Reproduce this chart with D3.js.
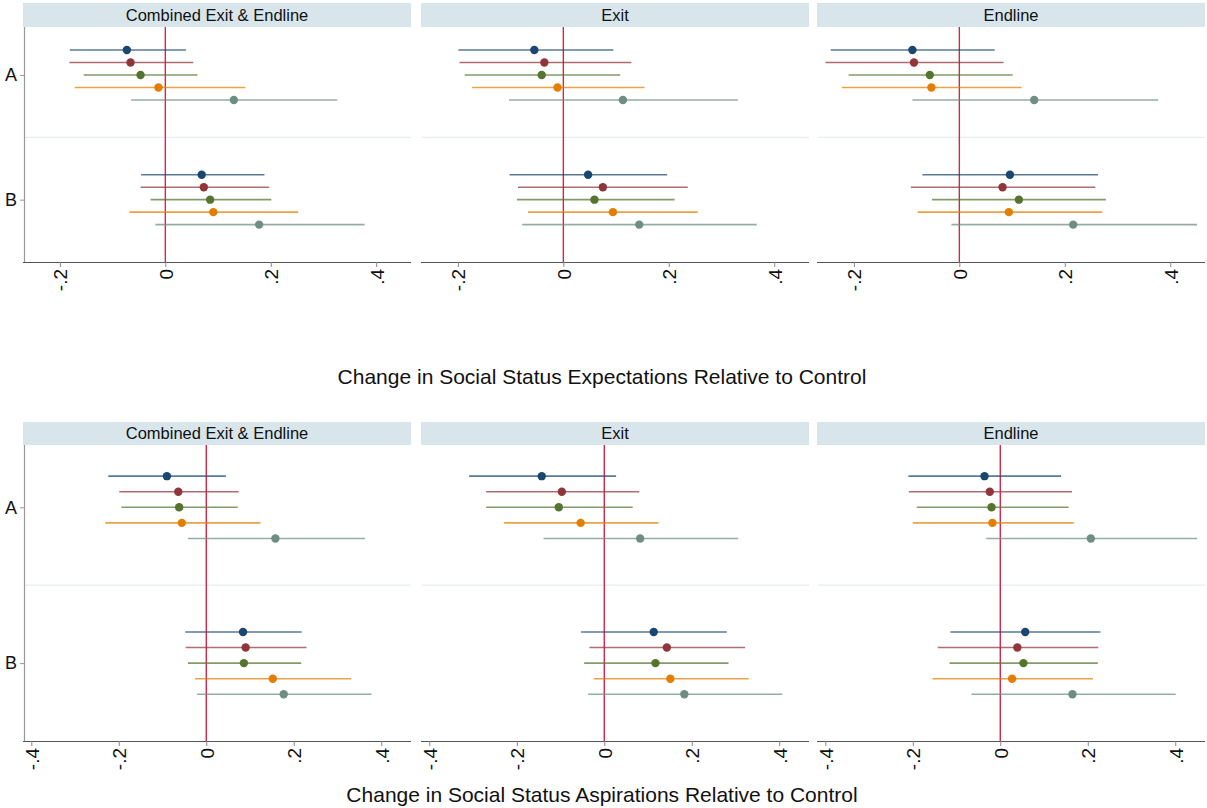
<!DOCTYPE html>
<html>
<head>
<meta charset="utf-8">
<script src="https://cdn.jsdelivr.net/npm/d3@7"></script>
<style>
  html, body { margin: 0; padding: 0; background: #ffffff; }
  svg { display: block; font-family: "Liberation Sans", Arial, Helvetica, sans-serif; }
</style>
</head>
<body>
<svg id="chart" width="1207" height="808"></svg>
<script>
// Facet titles, outcome categories and the five estimates shown per category
const panelTitles = ["Combined Exit & Endline", "Exit", "Endline"];
const categories = ["A", "B"];
const seriesNames = ["s1", "s2", "s3", "s4", "s5"];
const seriesColors = ["#1a476f", "#90353b", "#55752f", "#e37e00", "#6e8e84"];

const topAxisTitle = "Change in Social Status Expectations Relative to Control";
const bottomAxisTitle = "Change in Social Status Aspirations Relative to Control";

const topTicks = [-0.2, 0, 0.2, 0.4];
const topTickLabels = ["-.2", "0", ".2", ".4"];
const bottomTicks = [-0.4, -0.2, 0, 0.2, 0.4];
const bottomTickLabels = ["-.4", "-.2", "0", ".2", ".4"];

// Expectations: [panel][category][series]
const expPoint = [
  [[-0.073, -0.066, -0.047, -0.013, 0.130], [0.069, 0.073, 0.085, 0.091, 0.178]],
  [[-0.055, -0.036, -0.041, -0.011, 0.113], [0.047, 0.075, 0.059, 0.094, 0.144]],
  [[-0.089, -0.086, -0.056, -0.053, 0.142], [0.096, 0.082, 0.113, 0.094, 0.216]]
];
const expLow = [
  [[-0.181, -0.182, -0.155, -0.172, -0.065], [-0.046, -0.047, -0.028, -0.068, -0.019]],
  [[-0.199, -0.197, -0.187, -0.173, -0.103], [-0.102, -0.086, -0.088, -0.067, -0.078]],
  [[-0.244, -0.254, -0.210, -0.223, -0.089], [-0.070, -0.092, -0.052, -0.079, -0.015]]
];
const expHigh = [
  [[0.039, 0.053, 0.061, 0.152, 0.326], [0.188, 0.197, 0.201, 0.252, 0.378]],
  [[0.095, 0.129, 0.108, 0.154, 0.331], [0.197, 0.236, 0.211, 0.255, 0.367]],
  [[0.067, 0.084, 0.101, 0.118, 0.377], [0.263, 0.258, 0.278, 0.271, 0.451]]
];

// Aspirations: [panel][category][series]
const aspPoint = [
  [[-0.090, -0.064, -0.062, -0.056, 0.158], [0.084, 0.090, 0.086, 0.152, 0.177]],
  [[-0.143, -0.097, -0.104, -0.054, 0.082], [0.113, 0.143, 0.117, 0.151, 0.183]],
  [[-0.036, -0.024, -0.020, -0.018, 0.207], [0.057, 0.039, 0.053, 0.027, 0.165]]
];
const aspLow = [
  [[-0.224, -0.199, -0.194, -0.231, -0.042], [-0.048, -0.047, -0.042, -0.026, -0.021]],
  [[-0.309, -0.270, -0.270, -0.229, -0.139], [-0.053, -0.034, -0.046, -0.024, -0.037]],
  [[-0.210, -0.209, -0.191, -0.200, -0.032], [-0.114, -0.143, -0.116, -0.155, -0.066]]
];
const aspHigh = [
  [[0.045, 0.074, 0.072, 0.124, 0.363], [0.218, 0.229, 0.217, 0.331, 0.378]],
  [[0.027, 0.080, 0.065, 0.124, 0.306], [0.280, 0.322, 0.284, 0.330, 0.407]],
  [[0.139, 0.164, 0.156, 0.168, 0.450], [0.229, 0.224, 0.223, 0.212, 0.401]]
];

const svg = d3.select("#chart");

const panelLeft = [23, 421, 817];
const panelWidth = 388;

const blocks = [
  {
    point: expPoint, low: expLow, high: expHigh,
    ticks: topTicks, tickLabels: topTickLabels, title: topAxisTitle,
    xDomain: [-0.27, 0.466], yDomain: [0.615, 2.5],
    stripTop: 3, plotTop: 27, plotBottom: 262, titleY: 384
  },
  {
    point: aspPoint, low: aspLow, high: aspHigh,
    ticks: bottomTicks, tickLabels: bottomTickLabels, title: bottomAxisTitle,
    xDomain: [-0.419, 0.468], yDomain: [0.6, 2.5],
    stripTop: 422, plotTop: 445, plotBottom: 741, titleY: 802
  }
];

blocks.forEach(block => {
  const y = d3.scaleLinear().domain(block.yDomain).range([block.plotTop, block.plotBottom]);

  panelTitles.forEach((title, p) => {
    const x0 = panelLeft[p];
    const x = d3.scaleLinear().domain(block.xDomain).range([x0, x0 + panelWidth]);
    const g = svg.append("g");

    // facet strip
    g.append("rect")
      .attr("x", x0).attr("y", block.stripTop)
      .attr("width", panelWidth).attr("height", block.plotTop - block.stripTop)
      .attr("fill", "#d8e5eb");
    g.append("text")
      .attr("x", x0 + panelWidth / 2).attr("y", block.plotTop - 6.5)
      .attr("text-anchor", "middle")
      .attr("font-size", 16.5).attr("fill", "#111")
      .text(title);

    // separator between categories
    g.append("line")
      .attr("x1", x0 + 1).attr("x2", x0 + panelWidth)
      .attr("y1", y(1.5)).attr("y2", y(1.5))
      .attr("stroke", "#e6eef0").attr("stroke-width", 1.2);

    // x axis
    const xAxis = d3.axisBottom(x)
      .tickValues(block.ticks)
      .tickSize(5)
      .tickFormat((d, i) => block.tickLabels[i]);
    const ax = g.append("g")
      .attr("transform", `translate(0,${block.plotBottom})`)
      .call(xAxis);
    ax.select(".domain").attr("stroke", "#555").attr("stroke-width", 1.2)
      .attr("d", `M${x0},0.5H${x0 + panelWidth}`);
    ax.selectAll(".tick line").attr("stroke", "#888");
    ax.selectAll(".tick text")
      .attr("font-size", 19).attr("fill", "#111")
      .attr("font-family", "'Liberation Sans', Arial, sans-serif")
      .attr("text-anchor", "end")
      .attr("x", 0).attr("y", 0).attr("dy", "0.36em")
      .attr("transform", "translate(0,7) rotate(-90)");

    // y axis only on first facet
    if (p === 0) {
      const yAxis = d3.axisLeft(y)
        .tickValues([1, 2])
        .tickSize(4)
        .tickFormat((d, i) => categories[i]);
      const ay = g.append("g")
        .attr("transform", `translate(${x0 + 1},0)`)
        .call(yAxis);
      ay.select(".domain").attr("stroke", "#999").attr("stroke-width", 1.2)
        .attr("d", `M0.5,${block.plotTop}V${block.plotBottom}`);
      ay.selectAll(".tick line").attr("stroke", "#999");
      ay.selectAll(".tick text")
        .attr("font-size", 18).attr("fill", "#111")
        .attr("font-family", "'Liberation Sans', Arial, sans-serif")
        .attr("x", -7);
    }

    // zero reference line
    g.append("line")
      .attr("x1", x(0)).attr("x2", x(0))
      .attr("y1", block.plotTop).attr("y2", block.plotBottom)
      .attr("stroke", "#d0284b").attr("stroke-width", 1.4);

    // confidence intervals and point estimates
    categories.forEach((cat, c) => {
      seriesNames.forEach((s, k) => {
        const yy = y(c + 1 + (k - 2) * 0.1);
        g.append("line")
          .attr("x1", x(block.low[p][c][k])).attr("x2", x(block.high[p][c][k]))
          .attr("y1", yy).attr("y2", yy)
          .attr("stroke", seriesColors[k])
          .attr("stroke-opacity", 0.72)
          .attr("stroke-width", 1.6);
      });
      seriesNames.forEach((s, k) => {
        const yy = y(c + 1 + (k - 2) * 0.1);
        g.append("circle")
          .attr("cx", x(block.point[p][c][k])).attr("cy", yy)
          .attr("r", 4.2)
          .attr("fill", seriesColors[k]);
      });
    });
  });

  svg.append("text")
    .attr("x", 602).attr("y", block.titleY)
    .attr("text-anchor", "middle")
    .attr("font-size", 21).attr("fill", "#111")
    .text(block.title);
});
</script>
</body>
</html>
